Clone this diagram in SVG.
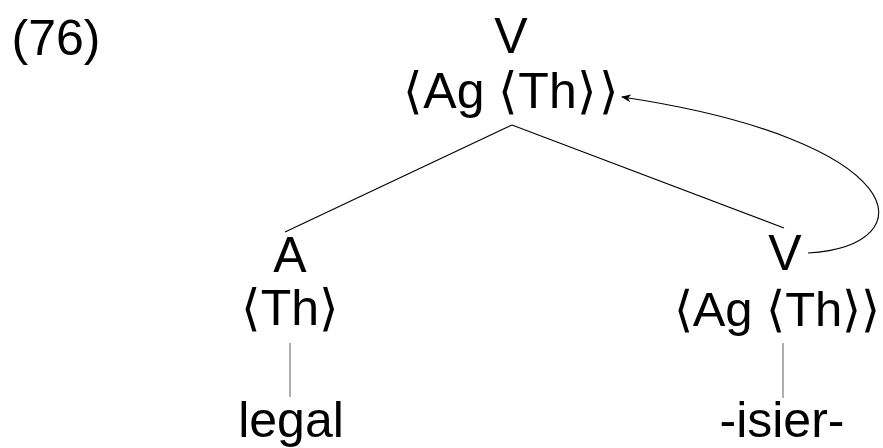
<svg xmlns="http://www.w3.org/2000/svg" width="883" height="448" viewBox="0 0 883 448">
<style>
text{font-family:"Liberation Sans","DejaVu Sans",sans-serif;font-size:50px;fill:#000;text-anchor:middle}
.br{font-family:"DejaVu Sans",sans-serif;font-weight:300}
.edge{stroke:#000;stroke-width:1.1;fill:none}
.stem{stroke:#777;stroke-width:1.2;fill:none}
</style>
<defs>
<marker id="ah" viewBox="0 0 10 8" refX="9" refY="4" markerWidth="10" markerHeight="8" markerUnits="userSpaceOnUse" orient="auto">
<path d="M0,0 L10,4 L0,8 L3,4 Z" fill="#000"/>
</marker>
</defs>
<text x="56" y="55">(76)</text>
<g id="connectors">
<line class="edge" x1="512" y1="125" x2="285" y2="232"/>
<line class="edge" x1="512" y1="125" x2="784" y2="228"/>
<line class="stem" x1="290" y1="343" x2="290" y2="397"/>
<line class="stem" x1="783" y1="343" x2="783" y2="398"/>
<path class="edge" d="M808,253 C930,245 910,140 622,97" marker-end="url(#ah)"/>
</g>
<g id="node-top">
<text x="511" y="53">V</text>
<text x="511" y="108"><tspan class="br">⟨</tspan>Ag <tspan class="br">⟨</tspan>Th<tspan class="br">⟩</tspan><tspan class="br" dx="2">⟩</tspan></text>
</g>
<g id="node-A">
<text x="290" y="272">A</text>
<text x="290" y="325"><tspan class="br">⟨</tspan>Th<tspan class="br">⟩</tspan></text>
</g>
<g id="node-V">
<text x="785" y="270">V</text>
<text x="777" y="326" style="font-size:49px"><tspan class="br">⟨</tspan>Ag <tspan class="br">⟨</tspan>Th<tspan class="br">⟩⟩</tspan></text>
</g>
<g id="leaf-legal">
<text x="291" y="437">legal</text>
</g>
<g id="leaf-isier">
<text x="782" y="437">-isier-</text>
</g>
</svg>
